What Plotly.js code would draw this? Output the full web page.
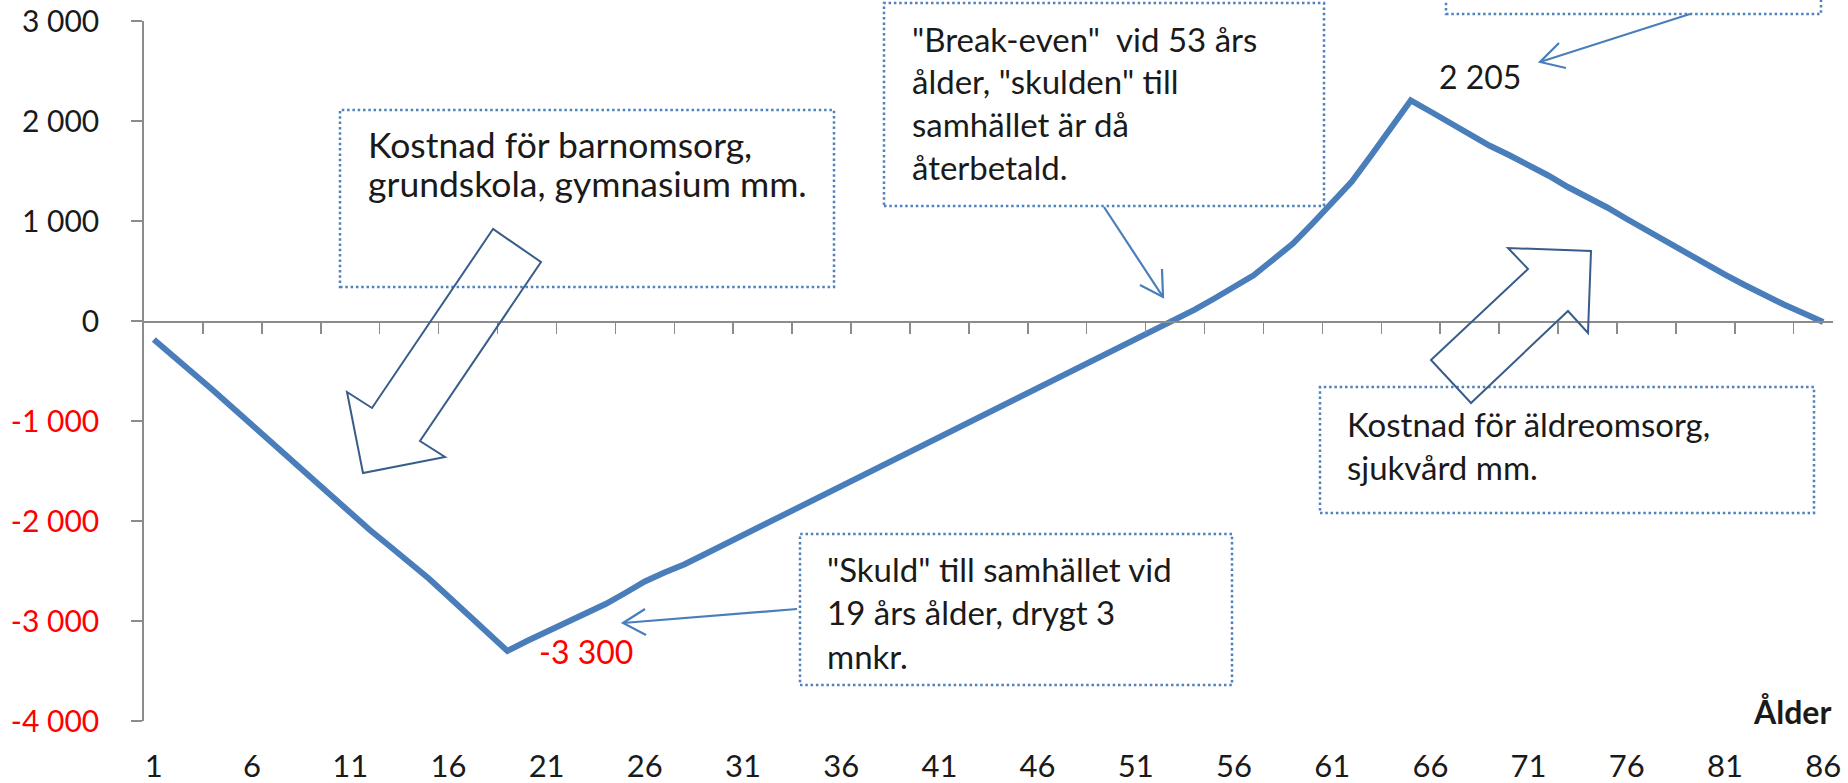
<!DOCTYPE html>
<html>
<head>
<meta charset="utf-8">
<script src="https://cdn.plot.ly/plotly-3.0.1.min.js"></script>
<style>html,body{margin:0;padding:0;background:#fff;}#chart{width:1848px;height:783px;}</style>
</head>
<body>
<div id="chart"></div>
<script>
// ---- data ----
const ages = [1,2,3,4,5,6,7,8,9,10,11,12,13,14,15,16,17,18,19,20,21,22,23,24,25,26,27,28,29,30,
  31,32,33,34,35,36,37,38,39,40,41,42,43,44,45,46,47,48,49,50,51,52,53,54,55,56,57,58,59,60,
  61,62,63,64,65,66,67,68,69,70,71,72,73,74,75,76,77,78,79,80,81,82,83,84,85,86];
const netValue = [-185,-350,-520,-690,-865,-1040,-1210,-1385,-1560,-1745,-1925,-2090,-2250,-2410,-2575,
  -2755,-2935,-3120,-3300,-3200,-3110,-3020,-2925,-2830,-2720,-2605,-2515,-2435,-2338,-2240,
  -2142,-2044,-1946,-1848,-1750,-1652,-1552,-1450,-1347,-1250,-1155,-1060,-964,-867,-770,
  -671,-574,-477,-380,-270,-170,-78,15,114,225,340,457,615,774,975,
  1180,1395,1660,1930,2205,2095,1982,1866,1755,1660,1562,1455,1340,1245,1135,
  1020,907,795,685,575,463,360,258,165,78,-10];
const xTickVals = [1,6,11,16,21,26,31,36,41,46,51,56,61,66,71,76,81,86];
const yTickVals = [-4000,-3000,-2000,-1000,0,1000,2000,3000];
const minAge = 19, maxAge = 65;
const axisTitle = 'Ålder';
const boxTexts = {
  barn: ['Kostnad för barnomsorg,', 'grundskola, gymnasium mm.'],
  breakEven: ['"Break-even"  vid 53 års', 'ålder, "skulden" till', 'samhället är då', 'återbetald.'],
  aldre: ['Kostnad för äldreomsorg,', 'sjukvård mm.'],
  skuld: ['"Skuld" till samhället vid', '19 års ålder, drygt 3', 'mnkr.']
};

// ---- helpers ----
const fmt = v => { const s = Math.abs(v).toString().replace(/\B(?=(\d{3})+(?!\d))/g, ' '); return (v < 0 ? '-' : '') + s; };
const L = 144, T = 21, W = 1689, H = 700;
const px = v => (v - L) / W;
const py = v => (T + H - v) / H;
const path = pts => 'M' + pts.map(p => px(p[0]).toFixed(5) + ',' + py(p[1]).toFixed(5)).join(' L') ;

const font = 'Lato, "Open Sans", sans-serif';
const txtFont = {family: font, size: 33, color: '#1a1a1a'};
const txtFontBig = {family: font, size: 35.5, color: '#1a1a1a'};

const yTickText = yTickVals.map(v => v < 0 ? '<span style="color:#ff0000">' + fmt(v) + '</span>' : fmt(v));
const boundaryTicks = [];
for (let k = 3; k <= 84; k += 3) boundaryTicks.push(k + 0.5);

const trace = {
  x: ages, y: netValue, type: 'scatter', mode: 'lines',
  line: {color: '#4A7EBB', width: 6}, hoverinfo: 'skip', showlegend: false
};
const dummy = {x: [], y: [], xaxis: 'x2', yaxis: 'y', type: 'scatter', mode: 'lines', showlegend: false, hoverinfo: 'skip'};

const boxLine = {color: '#4F81BD', width: 2.5, dash: '2.5px,2.8px'};
const rect = (x0, y0, x1, y1) => ({type: 'rect', xref: 'paper', yref: 'paper', x0: px(x0), x1: px(x1), y0: py(y1), y1: py(y0), line: boxLine, fillcolor: 'rgba(0,0,0,0)', layer: 'above'});
const blockLine = {color: '#385D8A', width: 2};
const thinLine = {color: '#4A7EBB', width: 2.2};
const shp = (d, line) => ({type: 'path', xref: 'paper', yref: 'paper', path: d, line: line, fillcolor: 'rgba(0,0,0,0)', layer: 'above'});

const shapes = [
  rect(340, 110, 834, 287),
  rect(884, 3, 1324, 206),
  rect(1446, -30, 1821, 14),
  rect(1320, 387, 1814, 513),
  rect(800, 534, 1232, 685),
  // block arrow down-left
  shp(path([[493,229],[372,408],[347,392],[363,473],[445,457],[420,441],[541,262]]) + ' Z', blockLine),
  // block arrow up-right
  shp(path([[1431,360],[1528,269],[1508,248],[1591,251],[1588,333],[1568,311],[1471,403]]) + ' Z', blockLine),
  // thin arrows
  shp(path([[1104,207],[1163,297]]), thinLine),
  shp(path([[1140,285],[1163,297],[1162,269]]), thinLine),
  shp(path([[797,609],[623,623]]), thinLine),
  shp(path([[645,609],[623,623],[646,635]]), thinLine),
  shp(path([[1690,14],[1540,62]]), thinLine),
  shp(path([[1559,43],[1540,62],[1566,68]]), thinLine)
];

const lineAnn = (txt, xl, yc, f) => ({xref: 'paper', yref: 'paper', x: px(xl), y: py(yc), xanchor: 'left', yanchor: 'middle', text: txt, showarrow: false, font: f});
const annotations = [];
const addLines = (lines, xl, centers, f) => lines.forEach((t, i) => annotations.push(lineAnn(t, xl, centers[i], f)));
addLines(boxTexts.barn, 366, [144, 183], txtFontBig);
addLines(boxTexts.breakEven, 910, [39, 81, 124, 167], txtFont);
addLines(boxTexts.aldre, 1345, [424, 467], txtFont);
addLines(boxTexts.skuld, 825, [569, 612, 656], txtFont);

const iMin = ages.indexOf(minAge), iMax = ages.indexOf(maxAge);
annotations.push({xref: 'x', yref: 'y', x: ages[iMin], y: netValue[iMin], text: fmt(netValue[iMin]), showarrow: false,
  xshift: 79, yshift: 0, font: {family: font, size: 32, color: '#ff0000'}});
annotations.push({xref: 'x', yref: 'y', x: ages[iMax], y: netValue[iMax], text: fmt(netValue[iMax]), showarrow: false,
  xshift: 69, yshift: 24, font: {family: font, size: 32, color: '#1a1a1a'}});
annotations.push({xref: 'paper', yref: 'paper', x: 1, y: py(711), xanchor: 'right', yanchor: 'middle', showarrow: false,
  text: '<b>' + axisTitle + '</b>', font: {family: font, size: 32, color: '#1a1a1a'}});

const layout = {
  width: 1848, height: 783,
  margin: {l: L, r: 1848 - L - W, t: T, b: 783 - T - H, pad: 0},
  paper_bgcolor: '#ffffff', plot_bgcolor: '#ffffff',
  showlegend: false, hovermode: false,
  xaxis: {range: [0.5, 86.5], tickvals: xTickVals, ticktext: xTickVals.map(String), ticks: '', showline: false,
    showgrid: false, zeroline: false, tickfont: {family: font, size: 31, color: '#1a1a1a'}, ticklabelstandoff: 24, fixedrange: true},
  xaxis2: {overlaying: 'x', anchor: 'free', position: 4 / 7, side: 'bottom', range: [0.5, 86.5], tickvals: boundaryTicks,
    showticklabels: false, ticks: 'outside', ticklen: 11, tickwidth: 1.5, tickcolor: '#8c8c8c', showline: true,
    linecolor: '#8c8c8c', linewidth: 1.8, showgrid: false, zeroline: false},
  yaxis: {range: [-4000, 3000], tickvals: yTickVals, ticktext: yTickText, ticks: 'outside', ticklen: 11, tickwidth: 1.5,
    tickcolor: '#8c8c8c', showline: true, linecolor: '#8c8c8c', linewidth: 1.8, showgrid: false, zeroline: false,
    tickfont: {family: font, size: 30, color: '#1a1a1a'}, ticklabelstandoff: 26, fixedrange: true},
  shapes: shapes,
  annotations: annotations
};

Plotly.newPlot('chart', [dummy, trace], layout, {displayModeBar: false, staticPlot: true});
</script>
</body>
</html>
